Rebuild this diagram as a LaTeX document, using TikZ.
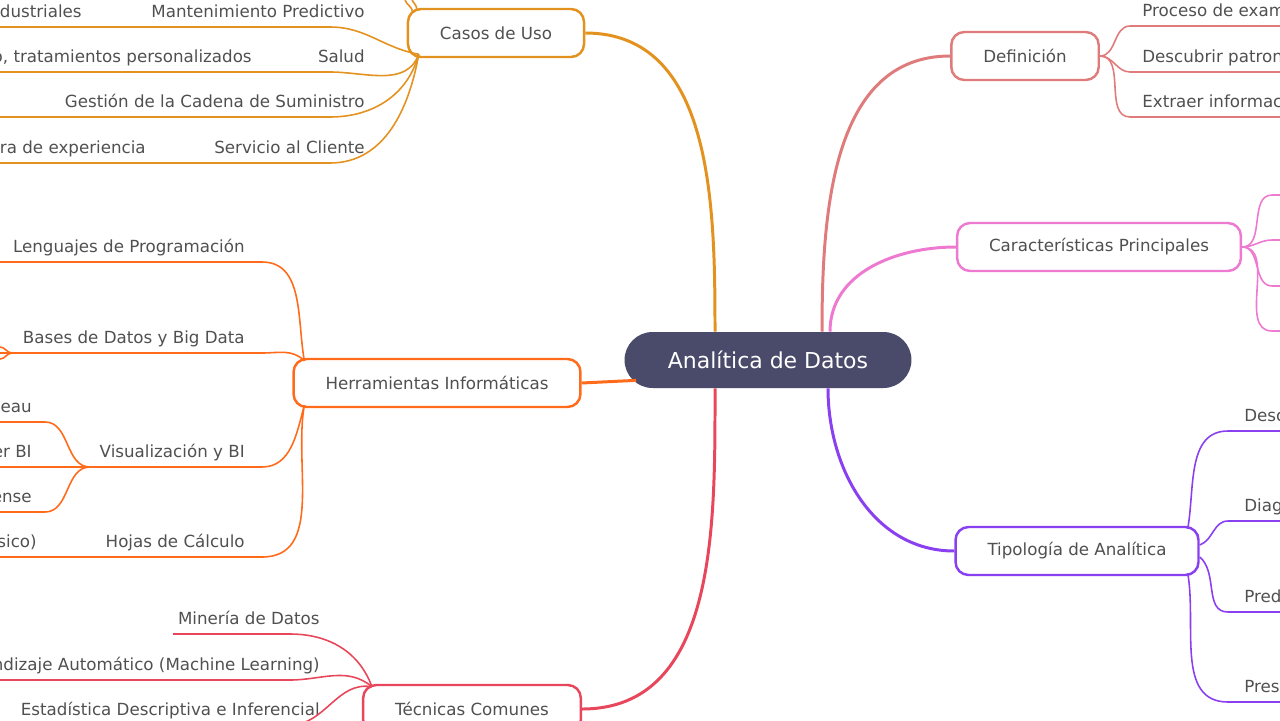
\documentclass[tikz,border=0pt]{standalone}
\usepackage{fontspec}
\setmainfont{DejaVu Sans}
\usetikzlibrary{positioning}
\definecolor{cUso}{HTML}{E3921F}
\definecolor{cHerr}{HTML}{FF6B1A}
\definecolor{cTec}{HTML}{E8465A}
\definecolor{cDef}{HTML}{E07B7B}
\definecolor{cCar}{HTML}{EE79D0}
\definecolor{cTip}{HTML}{8A3FF0}
\definecolor{cCen}{HTML}{4A4A6A}
\definecolor{txt}{HTML}{505050}
\tikzset{
  topic/.style={draw=#1,line width=1.4pt,rounded corners=0.26cm,fill=white,
    minimum height=0.96cm,inner xsep=0.64cm,text=txt,font=\fontsize{9.5}{11}\selectfont},
  leaf/.style={inner sep=0pt,text=txt,font=\fontsize{9.5}{11}\selectfont},
  twig/.style={draw=#1,line width=0.9pt},
  branch/.style={draw=#1,line width=1.7pt}
}
\begin{document}
\begin{tikzpicture}[x=0.02cm,y=-0.02cm]
    \useasboundingbox(0,0)rectangle(1280,720);
    \clip(0,0)rectangle(1280,720);
    \node[fill=cCen,rounded corners=0.56cm,minimum width=5.74cm,minimum height=1.12cm,text=white,
      font=\fontsize{12.5}{14}\selectfont](ad)at(768,360){Analítica de Datos};
    % main branches
    \node[topic=cUso](cu)at(496,33){Casos de Uso};
    \node[topic=cHerr](hi)at(437,383){Herramientas Informáticas};
    \node[topic=cTec](tc)at(472,709){Técnicas Comunes};
    \node[topic=cDef](df)at(1025,56){Definición};
    \node[topic=cCar](cp)at(1099,247){Características Principales};
    \node[topic=cTip](tp)at(1077,551){Tipología de Analítica};
    \draw[branch=cUso](ad.north)++(-53,0)to[out=90,in=0](cu.east);
    \draw[branch=cTec](ad.south)++(-53,0)to[out=270,in=0](tc.east);
    \draw[branch=cHerr](ad.south west)++(12,-8)--(hi.east);
    \draw[branch=cDef](ad.north)++(54,0)to[out=90,in=180](df.west);
    \draw[branch=cCar](ad.north)++(62,0)to[out=90,in=180](cp.west);
    \draw[branch=cTip](ad.south)++(60,0)to[out=270,in=180](tp.west);
    % casos de uso
    \foreach \y/\a/\t/\s/\e[count=\i] in {27/170/Mantenimiento Predictivo/Procesos industriales/82,
        72/250/Salud/{Diagnóstico, tratamientos personalizados}/252,
        117/255/Gestión de la Cadena de Suministro//0,
        163/260/Servicio al Cliente/Mejora de experiencia/146}{
      \node[leaf,anchor=base east](cu\i)at(365,\y-10){\t};
      \node[leaf,anchor=base east](cus\i)at(\e,\y-10){\s};
      \coordinate(cuE\i)at(330,\y);
      \draw[twig=cUso](0,\y)--(cuE\i)to[out=0,in=\a]([shift={(12,-4)}]cu.south west);
    }
    \draw[twig=cUso]([shift={(6,4)}]cu.north west)to[out=100,in=-70](405,0);
    \draw[twig=cUso]([shift={(10,3)}]cu.north west)to[out=80,in=-60](412,0);
    % herramientas
    \foreach \y/\a/\t[count=\i] in {262/100/Lenguajes de Programación,353/135/Bases de Datos y Big Data}{
      \node[leaf,anchor=base east](hi\i)at(245,\y-10){\t};
      \coordinate(hiE\i)at(262,\y);
      \draw[twig=cHerr](0,\y)--(hiE\i)to[out=0,in=\a]([shift={(12,3)}]hi.north west);
    }
    \foreach \y/\a/\t[count=\i from 3] in {467/255/Visualización y BI,557/260/Hojas de Cálculo}{
      \node[leaf,anchor=base east](hi\i)at(245,\y-10){\t};
      \coordinate(hiE\i)at(262,\y);
      \draw[twig=cHerr](0,\y)--(hiE\i)to[out=0,in=\a]([shift={(12,-3)}]hi.south west);
    }
    \node[leaf,anchor=base east](hs1)at(37,547){(básico)};
    \coordinate(vj)at(90,467);
    \coordinate(bj)at(12,353);
    \draw[twig=cHerr](bj)to[out=180,in=0](0,347) (bj)to[out=180,in=0](0,359);
    \foreach \y/\t[count=\i] in {422/Tableau,467/Power BI,512/Qlik Sense}{
      \node[leaf,anchor=base east](vs\i)at(32,\y-10){\t};
      \draw[twig=cHerr](0,\y)--(45,\y)to[out=0,in=180](vj);
    }
    % tecnicas
    \foreach \y/\a/\x/\t[count=\i] in {634/110/173/Minería de Datos,680/140/0/Aprendizaje Automático (Machine Learning),
        725/170/0/Estadística Descriptiva e Inferencial}{
      \node[leaf,anchor=base east](tc\i)at(320,\y-10){\t};
      \coordinate(tcE\i)at(290,\y);
      \draw[twig=cTec](\x,\y)--(tcE\i)to[out=0,in=\a]([shift={(10,3)}]tc.north west);
    }
    % definicion
    \foreach \y/\t[count=\i] in {26/Proceso de examinar datos,72/Descubrir patrones,117/Extraer información}{
      \node[leaf,anchor=base west](df\i)at(1142,\y-10){\t};
      \coordinate(dfE\i)at(1130,\y);
      \draw[twig=cDef](1280,\y)--(dfE\i)to[out=180,in=0](df.east);
    }
    % caracteristicas
    \foreach \y[count=\i] in {195,240,286,331}{
      \coordinate(cpE\i)at(1272,\y);
      \draw[twig=cCar](1280,\y)--(cpE\i)to[out=180,in=0](cp.east);
    }
    % tipologia
    \foreach \y/\a/\p/\u/\d/\t[count=\i] in {431/80/north east/-12/3/Descriptiva,521/20/east/0/-6/Diagnóstica,
        612/-40/east/0/6/Predictiva,702/-80/south east/-12/-3/Prescriptiva}{
      \node[leaf,anchor=base west](tp\i)at(1244,\y-10){\t};
      \coordinate(tpE\i)at(1228,\y);
      \draw[twig=cTip](1280,\y)--(tpE\i)to[out=180,in=\a]([shift={(\u,\d)}]tp.\p);
    }
\end{tikzpicture}
\end{document}
